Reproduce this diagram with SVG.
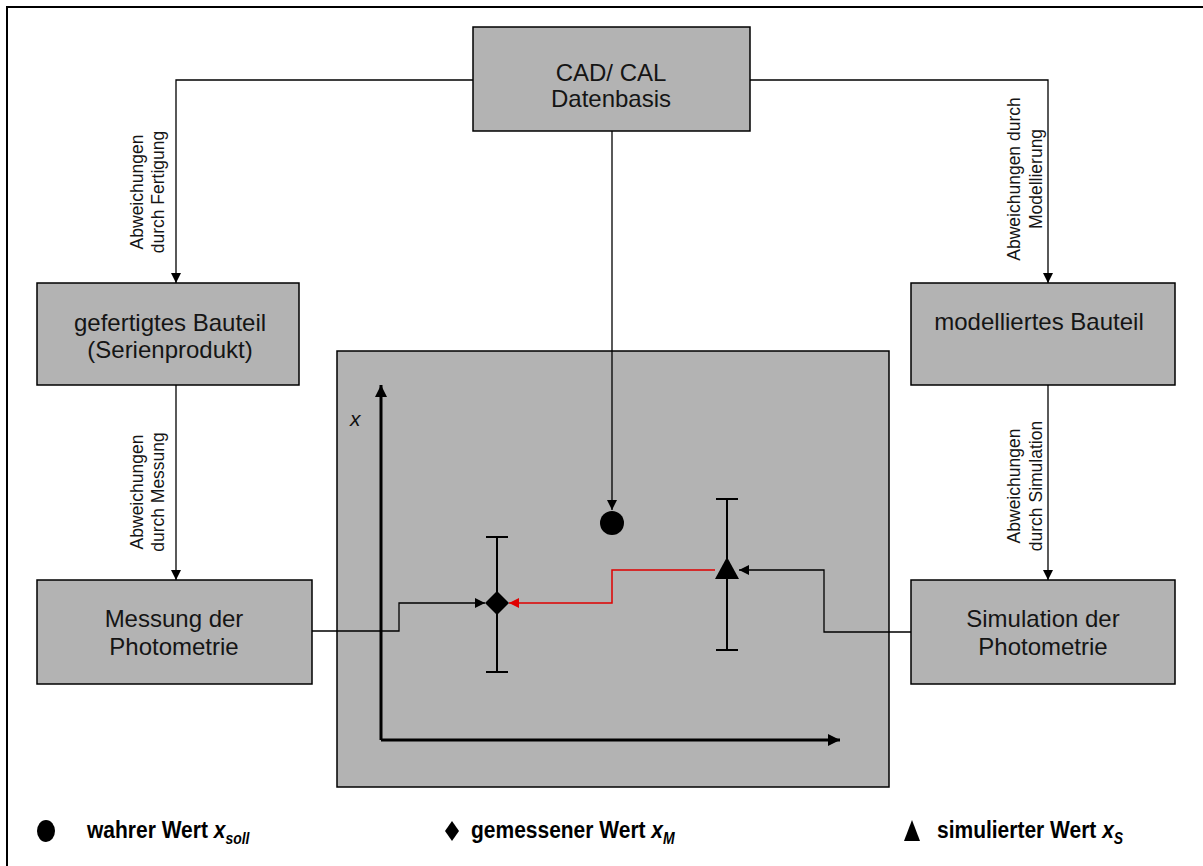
<svg xmlns="http://www.w3.org/2000/svg" width="1203" height="866" viewBox="0 0 1203 866">
  <defs>
    <style>
      .box { fill: #b3b3b3; stroke: #000; stroke-width: 1.5; }
      .lbl { font-family: "Liberation Sans", Arial, sans-serif; font-size: 24px; fill: #151515; text-anchor: middle; }
      .vl { font-family: "Liberation Sans", Arial, sans-serif; font-size: 17.5px; fill: #151515; text-anchor: middle; }
      .leg { font-family: "Liberation Sans", Arial, sans-serif; font-size: 21px; font-weight: bold; fill: #000; }
      .wire { fill: none; stroke: #000; stroke-width: 1.3; }
      .red { fill: none; stroke: #e00000; stroke-width: 1.5; }
      .axis { fill: none; stroke: #000; stroke-width: 3; }
      .bar { fill: none; stroke: #000; stroke-width: 2; }
    </style>
    <marker id="ah" viewBox="0 0 10 10" refX="10" refY="5" markerWidth="10" markerHeight="10" markerUnits="userSpaceOnUse" orient="auto">
      <path d="M0,0 L10,5 L0,10 z" fill="#000"/>
    </marker>
    <marker id="ahr" viewBox="0 0 10 10" refX="10" refY="5" markerWidth="10" markerHeight="10" markerUnits="userSpaceOnUse" orient="auto">
      <path d="M0,0 L10,5 L0,10 z" fill="#e00000"/>
    </marker>
    <marker id="ax" viewBox="0 0 10 10" refX="10" refY="5" markerWidth="18" markerHeight="12" markerUnits="userSpaceOnUse" orient="auto">
      <path d="M0,0 L10,5 L0,10 z" fill="#000"/>
    </marker>
  </defs>

  <rect width="1203" height="866" fill="#fff"/>
  <!-- frame -->
  <path d="M7,866 V7 H1203" fill="none" stroke="#000" stroke-width="2"/>

  <!-- connectors -->
  <g id="connectors">
    <path class="wire" d="M473,80 H176 V283" marker-end="url(#ah)"/>
    <path class="wire" d="M750,80 H1048 V283" marker-end="url(#ah)"/>
    <path class="wire" d="M176,385 V580" marker-end="url(#ah)"/>
    <path class="wire" d="M1048,385 V580" marker-end="url(#ah)"/>
  </g>

  <g id="cad">
    <rect class="box" x="473" y="27" width="277" height="104"/>
    <text class="lbl" x="611" y="81">CAD/ CAL</text>
    <text class="lbl" x="611" y="107">Datenbasis</text>
  </g>

  <g id="gefertigt">
    <rect class="box" x="37" y="283" width="262" height="102"/>
    <text class="lbl" x="170" y="331">gefertigtes Bauteil</text>
    <text class="lbl" x="170" y="358">(Serienprodukt)</text>
  </g>

  <g id="modelliert">
    <rect class="box" x="911" y="283" width="264" height="102"/>
    <text class="lbl" x="1039" y="330">modelliertes Bauteil</text>
  </g>

  <g id="messung">
    <rect class="box" x="37" y="580" width="275" height="104"/>
    <text class="lbl" x="174" y="627">Messung der</text>
    <text class="lbl" x="174" y="655">Photometrie</text>
  </g>

  <g id="simulation">
    <rect class="box" x="911" y="580" width="264" height="104"/>
    <text class="lbl" x="1043" y="627">Simulation der</text>
    <text class="lbl" x="1043" y="655">Photometrie</text>
  </g>

  <!-- edge labels -->
  <g id="edge-labels">
    <text class="vl" transform="translate(143,192) rotate(-90)">Abweichungen</text>
    <text class="vl" transform="translate(164,192) rotate(-90)">durch Fertigung</text>
    <text class="vl" transform="translate(143,492) rotate(-90)">Abweichungen</text>
    <text class="vl" transform="translate(164,492) rotate(-90)">durch Messung</text>
    <text class="vl" transform="translate(1020,179) rotate(-90)">Abweichungen durch</text>
    <text class="vl" transform="translate(1042,179) rotate(-90)">Modellierung</text>
    <text class="vl" transform="translate(1020,486) rotate(-90)">Abweichungen</text>
    <text class="vl" transform="translate(1042,486) rotate(-90)">durch Simulation</text>
  </g>

  <!-- chart -->
  <g id="chart">
    <rect class="box" x="337" y="351" width="552" height="436"/>
    <path class="axis" d="M381,740 V385" marker-end="url(#ax)"/>
    <path class="axis" d="M381,740 H840" marker-end="url(#ax)"/>
    <text x="350" y="426" font-family="'Liberation Sans', Arial, sans-serif" font-size="21" font-style="italic" fill="#111">x</text>

    <!-- error bars -->
    <path class="bar" d="M486,537 H508 M497,537 V672 M486,672 H508"/>
    <path class="bar" d="M716,499 H738 M727,499 V650 M716,650 H738"/>

    <!-- flows into the chart -->
    <path class="wire" d="M312,631 H399 V603 H485" marker-end="url(#ah)"/>
    <path class="wire" d="M911,632 H824 V570 H739" marker-end="url(#ah)"/>
    <path class="red" d="M715,570 H612 V603 H509" marker-end="url(#ahr)"/>
    <path class="wire" d="M612,131 V510" marker-end="url(#ah)"/>

    <!-- markers -->
    <circle cx="612" cy="523" r="12" fill="#000"/>
    <path d="M497,591 L509,603 L497,615 L485,603 z" fill="#000"/>
    <path d="M727,557 L739,579 L715,579 z" fill="#000"/>
  </g>

  <!-- legend -->
  <g id="legend">
    <ellipse cx="46" cy="831" rx="9" ry="11" fill="#000"/>
    <path d="M452,821 L459,831 L452,841 L445,831 z" fill="#000"/>
    <path d="M912,820 L920,841 L904,841 z" fill="#000"/>
    <!-- legend captions, stretched slightly upward from their baseline -->
    <g transform="translate(0,838) scale(1,1.15) translate(0,-838)">
      <text class="leg" x="87" y="838">wahrer Wert <tspan font-style="italic">x</tspan><tspan font-style="italic" font-size="14" dy="5">soll</tspan></text>
      <text class="leg" x="471" y="838">gemessener Wert <tspan font-style="italic">x</tspan><tspan font-style="italic" font-size="14" dy="5">M</tspan></text>
      <text class="leg" x="937" y="838">simulierter Wert <tspan font-style="italic">x</tspan><tspan font-style="italic" font-size="14" dy="5">S</tspan></text>
    </g>
  </g>
</svg>
